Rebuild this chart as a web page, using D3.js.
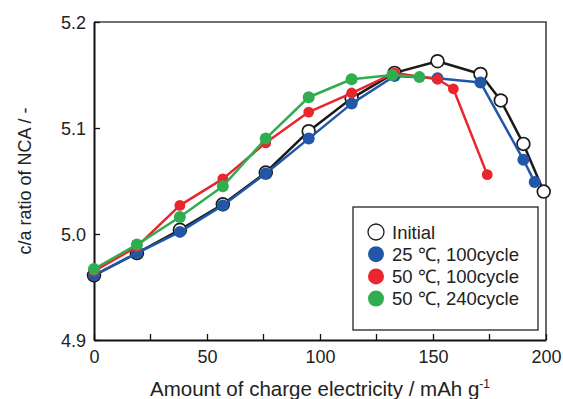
<!DOCTYPE html>
<html>
<head>
<meta charset="utf-8">
<script src="https://cdn.jsdelivr.net/npm/d3@7"></script>
<style>
  html, body { margin: 0; padding: 0; background: #fff; }
  svg { display: block; font-family: 'Liberation Sans', Arial, sans-serif; }
</style>
</head>
<body>
<div id="chart"></div>
<script>
// data
const initialX = [0, 19, 38, 57, 76, 95, 114, 133, 152, 171, 180, 190, 199]
const initialY = [4.961, 4.982, 5.004, 5.028, 5.058, 5.097, 5.128, 5.152, 5.163, 5.151, 5.126, 5.085, 5.040]

const cyc25X = [0, 19, 38, 57, 76, 95, 114, 133, 152, 171, 190, 195]
const cyc25Y = [4.961, 4.982, 5.002, 5.027, 5.057, 5.090, 5.123, 5.149, 5.147, 5.143, 5.070, 5.049]

const cyc50X = [0, 19, 38, 57, 76, 95, 114, 133, 152, 159, 174]
const cyc50Y = [4.965, 4.988, 5.027, 5.052, 5.086, 5.115, 5.133, 5.152, 5.146, 5.137, 5.056]

const cyc240X = [0, 19, 38, 57, 76, 95, 114, 132, 144]
const cyc240Y = [4.967, 4.990, 5.016, 5.045, 5.090, 5.129, 5.146, 5.150, 5.148]

const seriesNames = ['Initial', '25 \u2103, 100cycle', '50 \u2103, 100cycle', '50 \u2103, 240cycle']
const xTicks = [0, 50, 100, 150, 200]
const xMinorTicks = [25, 75, 125, 175]
const yTicks = [4.9, 5.0, 5.1, 5.2]

const width = 563
const height = 399
const margins = { left: 94, right: 17, top: 22, bottom: 59 }

const series = [
  { name: seriesNames[0], xs: initialX, ys: initialY, color: '#1a1a1a', fill: '#fff', r: 6.4 },
  { name: seriesNames[1], xs: cyc25X, ys: cyc25Y, color: '#2257a8', fill: '#2257a8', r: 6 },
  { name: seriesNames[2], xs: cyc50X, ys: cyc50Y, color: '#e8262c', fill: '#e8262c', r: 5.4 },
  { name: seriesNames[3], xs: cyc240X, ys: cyc240Y, color: '#2fad50', fill: '#2fad50', r: 6 }
]

const xScale = d3.scaleLinear()
  .domain([0, 200])
  .range([margins.left, width - margins.right])

const yScale = d3.scaleLinear()
  .domain([4.9, 5.2])
  .range([height - margins.bottom, margins.top])

const svg = d3.select('#chart').append('svg')
  .attr('width', width)
  .attr('height', height)
  .attr('viewBox', [0, 0, width, height].join(' '))

// frame (top / right)
svg.append('path')
  .attr('d', `M${xScale(0)},${yScale(5.2)}H${xScale(200)}V${yScale(4.9)}`)
  .attr('fill', 'none')
  .attr('stroke', '#444')
  .attr('stroke-width', 1.6)

// axes
const xAxis = g => g
  .attr('transform', `translate(0, ${yScale(4.9)})`)
  .call(d3.axisBottom(xScale).tickValues(xTicks).tickSizeInner(-6).tickSizeOuter(0).tickPadding(10).tickFormat(d3.format('d')))

const yAxis = g => g
  .attr('transform', `translate(${xScale(0)}, 0)`)
  .call(d3.axisLeft(yScale).tickValues(yTicks).tickSizeInner(-6).tickSizeOuter(0).tickPadding(8).tickFormat(d3.format('.1f')))

const gx = svg.append('g').call(xAxis)
gx.selectAll('.minor')
  .data(xMinorTicks)
  .enter().append('line')
  .attr('class', 'minor')
  .attr('x1', d => xScale(d)).attr('x2', d => xScale(d))
  .attr('y1', 0).attr('y2', -6)
  .attr('stroke', '#111')
  .attr('stroke-width', 1.3)

const gy = svg.append('g').call(yAxis)

svg.selectAll('.domain').attr('stroke', '#111').attr('stroke-width', 2)
svg.selectAll('.tick line').attr('stroke', '#111').attr('stroke-width', 1.3)
svg.selectAll('.tick text')
  .attr('fill', '#222')
  .style('font-size', '18px')
gy.selectAll('.tick text').attr('dy', '0.36em')

// lines and markers
series.forEach(s => {
  const pts = s.xs.map((x, i) => [x, s.ys[i]])
  const line = d3.line()
    .x(d => xScale(d[0]))
    .y(d => yScale(d[1]))

  svg.append('path')
    .datum(pts)
    .attr('d', line)
    .attr('fill', 'none')
    .attr('stroke', s.color)
    .attr('stroke-width', 2.5)
    .attr('stroke-linejoin', 'round')

  svg.append('g').selectAll('circle')
    .data(pts)
    .enter().append('circle')
    .attr('cx', d => xScale(d[0]))
    .attr('cy', d => yScale(d[1]))
    .attr('r', s.r)
    .attr('fill', s.fill)
    .attr('stroke', s.color)
    .attr('stroke-width', s.fill === '#fff' ? 1.7 : 0)
})

// legend
const legend = svg.append('g')
legend.append('rect')
  .attr('x', 353).attr('y', 207)
  .attr('width', 185).attr('height', 123)
  .attr('fill', '#fff')
  .attr('stroke', '#333')
  .attr('stroke-width', 1.4)

series.forEach((s, i) => {
  const cy = 232 + i * 22.2
  legend.append('circle')
    .attr('cx', 376).attr('cy', cy).attr('r', 8)
    .attr('fill', s.fill)
    .attr('stroke', s.color)
    .attr('stroke-width', s.fill === '#fff' ? 1.3 : 0)
  legend.append('text')
    .attr('x', 392).attr('y', cy)
    .attr('dy', '0.36em')
    .attr('fill', '#222')
    .style('font-size', '18.5px')
    .text(s.name)
})

// axis titles
const xTitle = svg.append('text')
  .attr('x', (xScale(0) + xScale(200)) / 2)
  .attr('y', 396)
  .attr('fill', '#222')
  .style('font-size', '20.5px')
  .style('text-anchor', 'middle')
xTitle.append('tspan').text('Amount of charge electricity / mAh g')
xTitle.append('tspan').attr('dy', -8).style('font-size', '12px').text('-1')

svg.append('text')
  .attr('transform', `translate(31, ${(yScale(4.9) + yScale(5.2)) / 2}) rotate(-90)`)
  .attr('fill', '#222')
  .style('font-size', '18px')
  .style('text-anchor', 'middle')
  .text('c/a ratio of NCA / -')
</script>
</body>
</html>
